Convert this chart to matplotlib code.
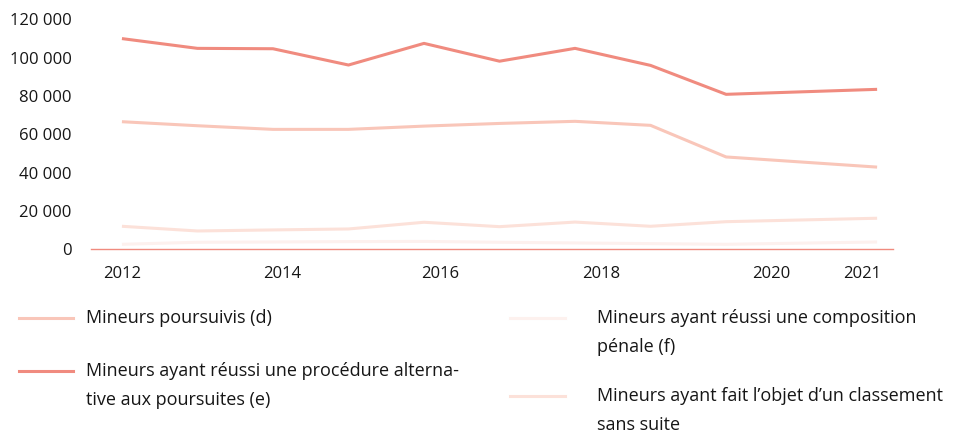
import numpy as np
import matplotlib.pyplot as plt
from matplotlib.lines import Line2D

plt.rcParams['font.family'] = ['Open Sans', 'DejaVu Sans']

# positions des points sur l'axe (un emplacement par période, un trou avant le dernier)
x_pos = [0, 1, 2, 3, 4, 5, 6, 7, 8, 10]
tick_pos = [0, 2.12, 4.22, 6.34, 8.6, 9.8]
tick_labels = ['2012', '2014', '2016', '2018', '2020', '2021']

poursuivis = [66600, 64500, 62600, 62600, 64300, 65700, 66800, 64700, 48200, 42900]
alternative = [110000, 104900, 104700, 96200, 107500, 98200, 104900, 96000, 80900, 83500]
composition = [2600, 3650, 3800, 4000, 4100, 3650, 3300, 2950, 2600, 3800]
classement = [12000, 9550, 10100, 10600, 14100, 11800, 14200, 12000, 14400, 16200]

c_alt = '#F08B7F'
c_pours = '#F9C6B9'
c_class = '#FCE1D9'
c_comp = '#FDF1EE'

fig = plt.figure(figsize=(9.74, 4.32), dpi=100)
ax = fig.add_axes([0.0934, 0.423, 0.8234, 0.532])

ax.plot(x_pos, composition, color=c_comp, lw=2.2, solid_capstyle='butt')
ax.plot(x_pos, classement, color=c_class, lw=2.2, solid_capstyle='butt')
ax.plot(x_pos, poursuivis, color=c_pours, lw=2.2, solid_capstyle='butt')
ax.plot(x_pos, alternative, color=c_alt, lw=2.2, solid_capstyle='butt')

ax.set_xlim(-0.41, 10.21)
ax.set_ylim(0, 120000)
ax.set_yticks(np.arange(0, 120001, 20000))
ax.set_yticklabels([f'{v:,}'.replace(',', ' ') for v in range(0, 120001, 20000)])
ax.set_xticks(tick_pos)
ax.set_xticklabels(tick_labels)
ax.tick_params(axis='both', length=0, labelsize=12, colors='#161616')
ax.tick_params(axis='x', pad=12)
ax.tick_params(axis='y', pad=14)
for side in ['top', 'right', 'left']:
    ax.spines[side].set_visible(False)
ax.spines['bottom'].set_color(c_alt)
ax.spines['bottom'].set_linewidth(1)

# légende dessinée à la main sur deux colonnes
W, H = 974, 432

def legend_item(x0, x1, y, color, tx, text):
    fig.add_artist(Line2D([x0 / W, x1 / W], [1 - y / H, 1 - y / H],
                          color=color, lw=2.2, transform=fig.transFigure))
    fig.text(tx / W, 1 - (y - 9) / H, text, fontsize=13, color='#161616',
             va='top', ha='left', linespacing=1.78,
             transform=fig.transFigure)

legend_item(19, 73, 318, c_pours, 86, 'Mineurs poursuivis (d)')
legend_item(19, 73, 371, c_alt, 86,
            'Mineurs ayant réussi une procédure alterna-\ntive aux poursuites (e)')
legend_item(510, 565, 318, c_comp, 597,
            'Mineurs ayant réussi une composition\npénale (f)')
legend_item(510, 565, 396, c_class, 597,
            'Mineurs ayant fait l\u2019objet d\u2019un classement\nsans suite')

fig.savefig('out.png', dpi=100, facecolor='white')
